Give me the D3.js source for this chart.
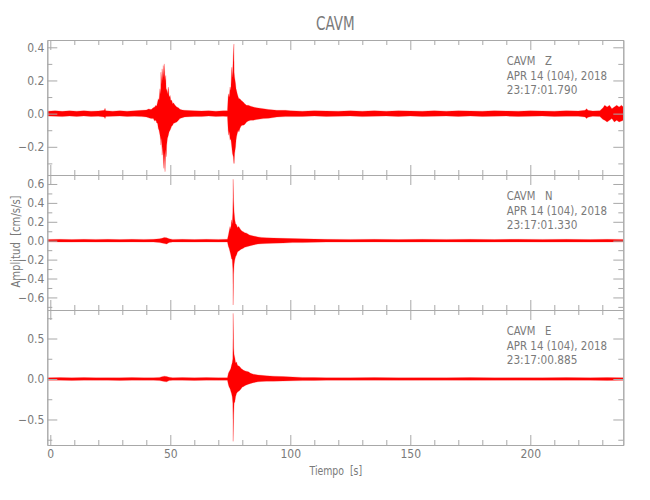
<!DOCTYPE html>
<html>
<head>
<meta charset="utf-8">
<script src="https://cdn.jsdelivr.net/npm/d3@7/dist/d3.min.js"></script>
<style>
body{margin:0;background:#fff;}
svg{display:block;font-family:"Liberation Sans Narrow","DejaVu Sans Condensed","Liberation Sans",sans-serif;}
</style>
</head>
<body>
<script>
// ---------- DATA ----------
const title = "CAVM";
const components = ["Z", "N", "E"];
const dateLabel = "APR 14 (104), 2018";
const startTimes = ["23:17:01.790", "23:17:01.330", "23:17:00.885"];
const xMajorTicks = [0, 50, 100, 150, 200];
const xMinorTicks = [10,20,30,40,60,70,80,90,110,120,130,140,160,170,180,190,210,220,230];
const yMajorZ = [-0.2, 0.0, 0.2, 0.4];
const yMinorZ = [-0.3, -0.1, 0.1, 0.3];
const yMajorN = [-0.6, -0.4, -0.2, 0.0, 0.2, 0.4, 0.6];
const yMinorN = [-0.7, -0.5, -0.3, -0.1, 0.1, 0.3, 0.5];
const yMajorE = [-0.5, 0.0, 0.5];
const yMinorE = [-0.75, -0.25, 0.25, 0.75];
const yRangeZ = [-0.37, 0.444];
const yRangeN = [-0.733, 0.695];
const yRangeE = [-0.815, 0.852];
const timeRange = [-1.25, 238.75];

// envelope samples: [time s, max amplitude, min amplitude]
const envZ = [
 [-1.25,.015,-.015],[2,.018,-.016],[5,.014,-.018],[8,.017,-.015],[11,.015,-.017],[14,.018,-.014],
 [17,.015,-.017],[20,.016,-.016],[22.5,.02,-.02],[22.8,.032,-.03],[23.1,.018,-.018],[26,.015,-.016],
 [29,.018,-.015],[32,.015,-.017],[35,.017,-.016],[38,.02,-.018],
 [40,.022,-.02],[41,.028,-.025],[42,.025,-.03],[42.9,.035,-.03],[43.5,.04,-.045],[44,.05,-.04],
 [44.3,.045,-.055],[44.7,.07,-.06],[45,.09,-.09],[45.3,.08,-.1],[45.7,.15,-.13],[46,.12,-.16],
 [46.1,.25,-.19],[46.4,.18,-.15],[46.6,.27,-.25],[46.9,.2,-.2],[47.1,.29,-.27],[47.3,.22,-.33],
 [47.5,.30,-.24],[47.8,.2,-.35],[48.1,.23,-.22],[48.3,.14,-.26],[48.5,.15,-.19],[48.8,.12,-.15],
 [49.2,.16,-.13],[49.5,.1,-.11],[49.9,.11,-.1],[50.2,.08,-.09],[50.6,.08,-.075],[51,.06,-.07],
 [51.3,.065,-.06],[52,.05,-.055],[52.7,.04,-.05],[53.4,.035,-.04],[54,.026,-.03],[55,.022,-.025],
 [56,.02,-.02],[60,.018,-.017],[63,.016,-.018],[66,.018,-.015],[69,.015,-.017],[72,.017,-.016],
 [73.8,.018,-.018],[74.1,.1,-.1],[74.4,.12,-.13],[74.6,.1,-.11],[74.9,.16,-.16],[75.2,.14,-.15],
 [75.6,.28,-.2],[75.9,.22,-.24],[76.25,.35,-.26],[76.5,.42,-.3],[76.6,.25,-.3],[76.8,.22,-.24],
 [77.2,.18,-.2],[77.4,.15,-.16],[77.6,.14,-.14],[77.9,.12,-.12],[78.3,.1,-.1],[78.6,.09,-.11],
 [79,.09,-.09],[79.5,.08,-.075],[80,.075,-.07],[80.4,.07,-.07],[81,.06,-.065],[81.8,.05,-.05],
 [82.5,.05,-.045],[83.5,.045,-.04],[84.6,.04,-.04],[86,.035,-.035],[88.8,.03,-.03],[91,.025,-.028],
 [94.4,.02,-.02],[98,.02,-.018],[100,.018,-.018],
 [105,.015,-.017],[110,.018,-.015],[115,.016,-.017],[120,.015,-.016],[125,.017,-.015],[130,.015,-.018],
 [135,.018,-.016],[140,.015,-.015],[145,.017,-.017],[150,.016,-.015],[155,.015,-.017],[160,.018,-.016],
 [165,.015,-.015],[170,.017,-.017],[175,.016,-.015],[180,.015,-.017],[185,.018,-.016],[190,.016,-.015],
 [195,.015,-.017],[200,.017,-.016],[205,.016,-.015],[210,.015,-.017],[215,.018,-.016],[220,.016,-.016],
 [222.8,.02,-.02],[223.5,.03,-.03],[224,.02,-.022],[226,.016,-.016],[229,.018,-.018],[230.3,.035,-.035],
 [231,.05,-.04],[232,.04,-.05],[233,.05,-.04],[234,.03,-.03],[235,.04,-.05],[236,.05,-.04],
 [237,.04,-.05],[238,.05,-.045],[238.75,.04,-.04]
];
const envN = [
 [-1.25,.013,-.013],[4,.015,-.014],[9,.013,-.015],[14,.015,-.013],[19,.014,-.015],[24,.015,-.014],
 [29,.013,-.015],[34,.015,-.013],[39,.014,-.015],[43,.015,-.014],[45.5,.02,-.02],[46.5,.025,-.025],
 [47.5,.035,-.03],[48.5,.03,-.035],[49.5,.02,-.02],[51,.014,-.014],[55,.015,-.014],[60,.013,-.015],
 [65,.015,-.013],[70,.014,-.015],[73.8,.015,-.014],
 [74.2,.06,-.06],[74.5,.1,-.08],[74.9,.15,-.12],[75.2,.12,-.15],[75.5,.22,-.19],[75.8,.18,-.2],
 [76.05,.3,-.3],[76.2,.65,-.68],[76.35,.43,-.36],[76.6,.3,-.25],[76.9,.22,-.2],[77.2,.18,-.17],
 [77.6,.17,-.15],[78,.14,-.12],[78.5,.15,-.11],[79,.13,-.1],[79.5,.11,-.09],[80,.1,-.085],
 [80.4,.095,-.08],[81,.085,-.07],[81.8,.08,-.065],[83,.06,-.055],[84.6,.05,-.045],[86.5,.04,-.035],
 [88,.035,-.032],[90,.03,-.03],[93,.028,-.027],[97,.025,-.025],[101,.022,-.02],[105,.02,-.02],
 [110,.017,-.017],[115,.015,-.015],[125,.014,-.015],[135,.015,-.013],[145,.013,-.015],[155,.015,-.014],
 [165,.014,-.013],[175,.015,-.015],[185,.013,-.014],[195,.015,-.013],[205,.014,-.015],[215,.015,-.014],
 [225,.013,-.015],[232,.015,-.014],[238.75,.014,-.014]
];
const envE = [
 [-1.25,.015,-.015],[4,.017,-.015],[9,.014,-.017],[14,.017,-.014],[19,.015,-.016],[24,.016,-.015],
 [29,.014,-.017],[34,.017,-.014],[39,.015,-.016],[43,.016,-.015],[45.5,.02,-.02],[46.5,.028,-.025],
 [47.5,.035,-.032],[48.5,.03,-.035],[49.5,.022,-.02],[51,.015,-.015],[55,.017,-.015],[60,.014,-.017],
 [65,.017,-.014],[70,.015,-.016],[73.8,.016,-.015],
 [74.2,.07,-.07],[74.5,.09,-.1],[74.9,.11,-.12],[75.2,.13,-.15],[75.5,.17,-.18],[75.8,.2,-.22],
 [76.05,.25,-.3],[76.2,.81,-.77],[76.4,.38,-.44],[76.6,.3,-.3],[76.9,.26,-.28],[77.2,.2,-.22],
 [77.6,.21,-.18],[78,.17,-.16],[78.5,.16,-.15],[79,.15,-.14],[79.5,.13,-.12],[80,.12,-.1],
 [80.4,.11,-.095],[81.2,.1,-.08],[82.5,.09,-.065],[83.5,.07,-.055],[84.6,.06,-.045],[86.5,.05,-.035],
 [88,.045,-.03],[90,.04,-.028],[93,.035,-.027],[97,.03,-.025],[101,.025,-.022],[105,.02,-.02],
 [110,.018,-.018],[115,.016,-.016],[125,.015,-.016],[135,.017,-.014],[145,.014,-.016],[155,.016,-.015],
 [165,.015,-.014],[175,.017,-.016],[185,.014,-.015],[195,.016,-.014],[205,.015,-.016],[215,.017,-.015],
 [225,.015,-.016],[232,.018,-.018],[238.75,.016,-.016]
];

// ---------- LAYOUT ----------
const W = 650, H = 500;
const left = 47.3, right = 623.3;
const panelTops = [40, 175, 310];
const panelH = 135;
const axisColor = "#a8a8a8", textColor = "#7a7a7a";

const panels = [
  {comp: components[0], env: envZ, range: yRangeZ, major: yMajorZ, minor: yMinorZ, start: startTimes[0]},
  {comp: components[1], env: envN, range: yRangeN, major: yMajorN, minor: yMinorN, start: startTimes[1]},
  {comp: components[2], env: envE, range: yRangeE, major: yMajorE, minor: yMinorE, start: startTimes[2]}
];

const svg = d3.select("body").append("svg").attr("width", W).attr("height", H);
svg.append("rect").attr("width", W).attr("height", H).attr("fill", "#fff");

const x = d3.scaleLinear().domain(timeRange).range([left, right]);
const fmt = d3.format(".1f");

function styleAxis(g) {
  g.selectAll("path.domain").attr("stroke", axisColor).attr("stroke-width", 1);
  g.selectAll(".tick line").attr("stroke", axisColor).attr("stroke-width", 1);
  g.selectAll(".tick text").attr("fill", textColor).attr("font-size", 12)
    .attr("font-family", "'Liberation Sans Narrow','DejaVu Sans Condensed',sans-serif");
}

function label(parent, tx, ty, str, size, anchor, sx, rot) {
  const g = parent.append("g")
    .attr("transform", `translate(${tx},${ty})` + (rot ? ` rotate(${rot})` : "") + ` scale(${sx},1)`);
  return g.append("text").attr("x", 0).attr("y", 0)
    .attr("text-anchor", anchor).attr("fill", textColor).attr("font-size", size)
    .style("white-space", "pre").text(str);
}

panels.forEach((p, i) => {
  const top = panelTops[i], bottom = top + panelH;
  const y = d3.scaleLinear().domain(p.range).range([bottom, top]);
  const g = svg.append("g");

  const clipId = "clip" + i;
  svg.append("clipPath").attr("id", clipId).append("rect")
    .attr("x", left).attr("y", top).attr("width", right - left).attr("height", panelH);

  const area = d3.area()
    .x(d => x(d[0]))
    .y0(d => y(d[2]))
    .y1(d => y(d[1]));
  g.append("path").datum(p.env)
    .attr("clip-path", "url(#" + clipId + ")")
    .attr("d", area)
    .attr("fill", "#ff0000")
    .attr("stroke", "#ff3030")
    .attr("stroke-width", 0.5)
    .attr("stroke-opacity", 0.5);

  const la = g.append("g").attr("transform", `translate(${left},0)`)
    .call(d3.axisLeft(y).tickValues(p.major).tickSize(-10).tickSizeOuter(0).tickPadding(3).tickFormat(fmt));
  styleAxis(la);
  const lm = g.append("g").attr("transform", `translate(${left},0)`)
    .call(d3.axisLeft(y).tickValues(p.minor).tickSize(-5).tickSizeOuter(0).tickFormat(""));
  styleAxis(lm);
  const ra = g.append("g").attr("transform", `translate(${right},0)`)
    .call(d3.axisRight(y).tickValues(p.major).tickSize(-10).tickSizeOuter(0).tickFormat(""));
  styleAxis(ra);
  const rm = g.append("g").attr("transform", `translate(${right},0)`)
    .call(d3.axisRight(y).tickValues(p.minor).tickSize(-5).tickSizeOuter(0).tickFormat(""));
  styleAxis(rm);
  const ta = g.append("g").attr("transform", `translate(0,${top})`)
    .call(d3.axisTop(x).tickValues(xMajorTicks).tickSize(-10).tickSizeOuter(0).tickFormat(""));
  styleAxis(ta);
  const tm = g.append("g").attr("transform", `translate(0,${top})`)
    .call(d3.axisTop(x).tickValues(xMinorTicks).tickSize(-5).tickSizeOuter(0).tickFormat(""));
  styleAxis(tm);
  const isLast = i === panels.length - 1;
  const ba = g.append("g").attr("transform", `translate(0,${bottom})`)
    .call(d3.axisBottom(x).tickValues(xMajorTicks).tickSize(-10).tickSizeOuter(0).tickPadding(4)
      .tickFormat(isLast ? d3.format("d") : ""));
  styleAxis(ba);
  const bm = g.append("g").attr("transform", `translate(0,${bottom})`)
    .call(d3.axisBottom(x).tickValues(xMinorTicks).tickSize(-5).tickSizeOuter(0).tickFormat(""));
  styleAxis(bm);

  label(g, 506.7, top + 25, "CAVM   " + p.comp, 13, "start", 0.86);
  label(g, 506.7, top + 39.5, dateLabel, 13, "start", 0.88);
  label(g, 506.7, top + 54, p.start, 13, "start", 0.9);
});

label(svg, (left + right) / 2, 30, title, 20, "middle", 0.75);
label(svg, 335.8, 475, "Tiempo  [s]", 13, "middle", 0.8);
label(svg, 20, 241.5, "Amplitud  [cm/s/s]", 13, "middle", 0.86, -90);
</script>
</body>
</html>
